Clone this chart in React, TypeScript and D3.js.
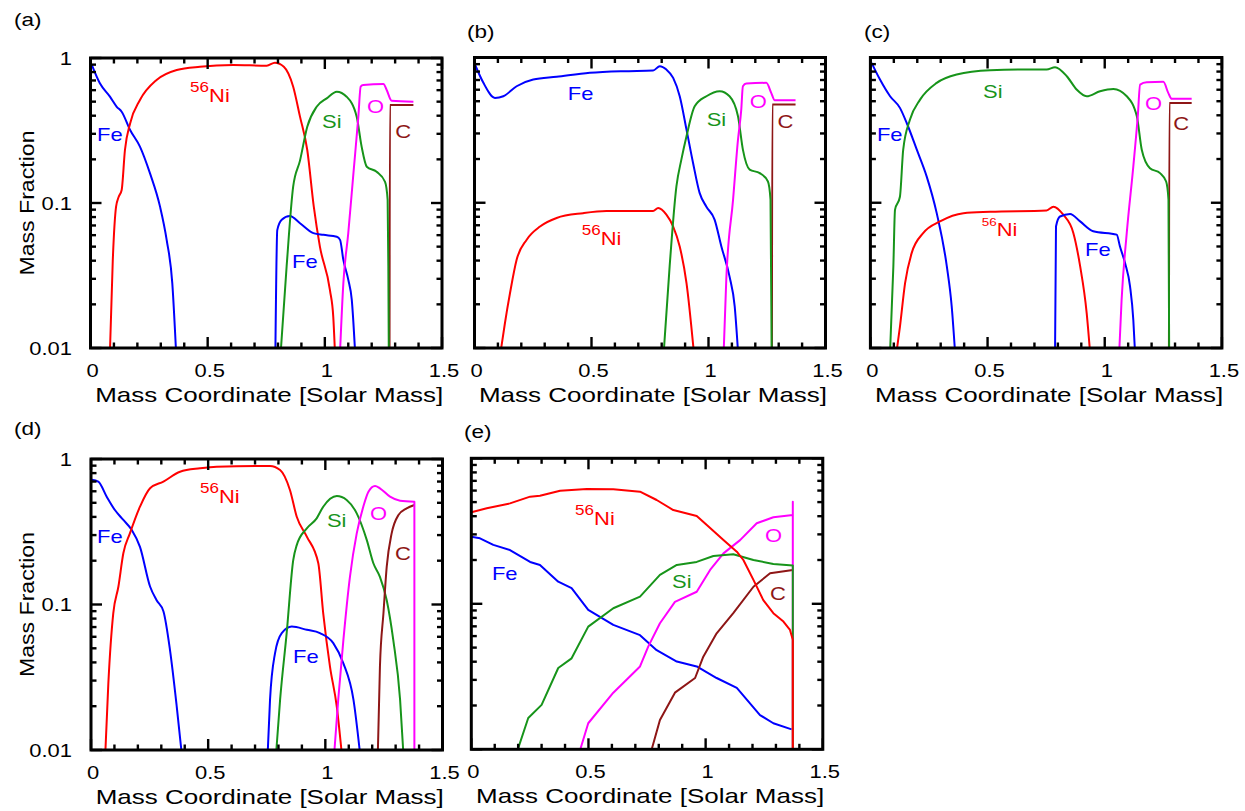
import React from 'react';
import * as d3 from 'd3';

type P = [number, number];

// ---------- tick values / labels ----------
const X_MAJOR = [0, 0.5, 1, 1.5];
const X_TICK_LABELS = ['0', '0.5', '1', '1.5'];
const Y_MAJOR = [0.01, 0.1, 1];
const Y_TICK_LABELS = ['0.01', '0.1', '1'];
const X_TITLE = 'Mass Coordinate [Solar Mass]';
const Y_TITLE = 'Mass Fraction';

// ---------- panel (a) ----------
const A_FE1: P[] = [[0.005,0.9],[0.04,0.669],[0.083,0.541],[0.112,0.461],[0.133,0.426],[0.169,0.319],[0.211,0.245],[0.254,0.16],[0.297,0.094],[0.325,0.0557],[0.349,0.028],[0.365,0.0095]];
const A_NI: P[] = [[0.083,0.0095],[0.095,0.04],[0.109,0.094],[0.12,0.11],[0.133,0.123],[0.147,0.232],[0.169,0.354],[0.211,0.513],[0.282,0.705],[0.368,0.826],[0.467,0.871],[0.609,0.895],[0.752,0.885],[0.787,0.928],[0.825,0.871],[0.865,0.634],[0.894,0.394],[0.925,0.232],[0.953,0.094],[0.979,0.05],[1.022,0.025],[1.036,0.0164],[1.043,0.0095]];
const A_FE2: P[] = [[0.789,0.0095],[0.797,0.065],[0.816,0.0766],[0.851,0.0813],[0.894,0.0725],[0.951,0.062],[0.994,0.0603],[1.051,0.0585],[1.065,0.0557],[1.079,0.0405],[1.1,0.0296],[1.115,0.0215],[1.129,0.0095]];
const A_SI: P[] = [[0.812,0.0095],[0.837,0.0366],[0.865,0.13],[0.894,0.196],[0.925,0.336],[0.965,0.461],[1.008,0.527],[1.051,0.586],[1.093,0.541],[1.136,0.394],[1.157,0.245],[1.179,0.178],[1.221,0.164],[1.257,0.14],[1.268,0.105],[1.271,0.0366],[1.273,0.0095]];
const A_O: P[] = [[1.065,0.0095],[1.079,0.028],[1.1,0.062],[1.122,0.16],[1.143,0.394],[1.153,0.634],[1.164,0.651],[1.25,0.662],[1.264,0.602],[1.285,0.507],[1.378,0.5]];
const A_C: P[] = [[1.276,0.0095],[1.278,0.474],[1.378,0.474]];

// ---------- panel (b) ----------
const B_FE: P[] = [[0.002,0.895],[0.038,0.669],[0.0875,0.527],[0.123,0.541],[0.18,0.634],[0.251,0.705],[0.351,0.736],[0.493,0.784],[0.635,0.805],[0.763,0.813],[0.792,0.871],[0.82,0.826],[0.849,0.724],[0.877,0.541],[0.906,0.319],[0.934,0.188],[0.962,0.117],[0.991,0.094],[1.026,0.0766],[1.055,0.05],[1.09,0.031],[1.112,0.0193],[1.126,0.0095]];
const B_NI: P[] = [[0.112,0.0095],[0.13,0.0148],[0.152,0.024],[0.18,0.0405],[0.223,0.0557],[0.28,0.0686],[0.351,0.0786],[0.464,0.0848],[0.564,0.0877],[0.763,0.0877],[0.785,0.092],[0.82,0.0828],[0.849,0.0686],[0.877,0.05],[0.906,0.028],[0.937,0.0095]];
const B_SI: P[] = [[0.809,0.0095],[0.834,0.0366],[0.863,0.13],[0.884,0.198],[0.906,0.287],[0.941,0.461],[0.991,0.541],[1.048,0.586],[1.09,0.541],[1.126,0.394],[1.147,0.232],[1.176,0.169],[1.219,0.16],[1.254,0.14],[1.265,0.105],[1.27,0.0095]];
const B_O: P[] = [[1.065,0.0095],[1.076,0.0296],[1.105,0.105],[1.126,0.272],[1.14,0.438],[1.147,0.634],[1.162,0.662],[1.247,0.669],[1.268,0.571],[1.283,0.507],[1.372,0.507]];
const B_C: P[] = [[1.271,0.0095],[1.273,0.474],[1.372,0.474]];

// ---------- panel (c) ----------
const C_FE1: P[] = [[0.005,0.919],[0.041,0.705],[0.084,0.541],[0.126,0.45],[0.155,0.354],[0.198,0.232],[0.24,0.152],[0.283,0.0848],[0.326,0.0366],[0.347,0.0193],[0.361,0.0095]];
const C_SI: P[] = [[0.084,0.0095],[0.098,0.0366],[0.105,0.0894],[0.126,0.11],[0.14,0.232],[0.169,0.374],[0.212,0.513],[0.283,0.669],[0.368,0.764],[0.511,0.817],[0.653,0.826],[0.752,0.826],[0.788,0.857],[0.838,0.743],[0.88,0.602],[0.923,0.541],[0.98,0.586],[1.037,0.608],[1.094,0.541],[1.137,0.394],[1.158,0.232],[1.193,0.173],[1.236,0.16],[1.262,0.14],[1.272,0.105],[1.275,0.0095]];
const C_NI: P[] = [[0.112,0.0095],[0.126,0.014],[0.148,0.028],[0.176,0.045],[0.226,0.062],[0.297,0.0744],[0.397,0.0848],[0.511,0.0866],[0.752,0.0884],[0.781,0.094],[0.823,0.0828],[0.866,0.062],[0.895,0.0366],[0.923,0.0174],[0.937,0.0095]];
const C_FE2: P[] = [[0.788,0.0095],[0.792,0.0686],[0.809,0.0804],[0.852,0.0838],[0.895,0.0744],[0.951,0.0636],[1.051,0.0603],[1.065,0.05],[1.087,0.0383],[1.108,0.0266],[1.122,0.0156],[1.129,0.0095]];
const C_O: P[] = [[1.062,0.0095],[1.072,0.0215],[1.094,0.062],[1.122,0.178],[1.141,0.394],[1.151,0.651],[1.179,0.676],[1.25,0.68],[1.271,0.571],[1.286,0.519],[1.371,0.519]];
const C_C: P[] = [[1.274,0.0095],[1.276,0.487],[1.371,0.487]];

// ---------- panel (d) ----------
const D_FE1: P[] = [[0.003,0.72],[0.031,0.699],[0.067,0.551],[0.102,0.446],[0.138,0.381],[0.174,0.325],[0.209,0.249],[0.252,0.133],[0.28,0.107],[0.309,0.0898],[0.337,0.0488],[0.366,0.0198],[0.387,0.0095]];
const D_NI: P[] = [[0.061,0.0095],[0.074,0.0287],[0.095,0.087],[0.117,0.133],[0.138,0.225],[0.166,0.308],[0.209,0.47],[0.252,0.629],[0.309,0.699],[0.38,0.818],[0.465,0.863],[0.536,0.885],[0.764,0.895],[0.807,0.84],[0.849,0.612],[0.878,0.401],[0.921,0.293],[0.97,0.192],[0.991,0.087],[1.02,0.0373],[1.049,0.0198],[1.07,0.0095]];
const D_FE2: P[] = [[0.754,0.0095],[0.764,0.0222],[0.785,0.046],[0.814,0.0636],[0.857,0.0705],[0.921,0.067],[0.977,0.0636],[1.034,0.0543],[1.077,0.0394],[1.12,0.0222],[1.148,0.0095]];
const D_SI: P[] = [[0.79,0.0095],[0.807,0.0222],[0.835,0.0636],[0.863,0.202],[0.878,0.256],[0.921,0.334],[0.963,0.391],[0.991,0.47],[1.049,0.557],[1.091,0.523],[1.134,0.423],[1.177,0.277],[1.205,0.192],[1.233,0.155],[1.262,0.107],[1.29,0.0569],[1.319,0.0222],[1.333,0.0095]];
const D_O: P[] = [[1.038,0.0095],[1.055,0.0222],[1.077,0.0569],[1.105,0.155],[1.134,0.308],[1.162,0.47],[1.184,0.596],[1.212,0.652],[1.233,0.629],[1.276,0.551],[1.319,0.517],[1.38,0.509],[1.38,0.0095]];
const D_C: P[] = [[1.224,0.0095],[1.233,0.0373],[1.248,0.087],[1.262,0.182],[1.283,0.308],[1.312,0.412],[1.347,0.458],[1.38,0.483]];

// ---------- panel (e) ----------
const E_FE: P[] = [[0,0.289],[0.037,0.282],[0.094,0.254],[0.165,0.234],[0.251,0.194],[0.293,0.185],[0.371,0.142],[0.428,0.128],[0.499,0.0907],[0.606,0.0716],[0.72,0.0609],[0.791,0.048],[0.877,0.0401],[0.962,0.0371],[1.047,0.0309],[1.133,0.0264],[1.232,0.0172],[1.289,0.0151],[1.367,0.0137]];
const E_C: P[] = [[0.766,0.0095],[0.805,0.0159],[0.869,0.0245],[0.955,0.0309],[0.99,0.0433],[1.047,0.0627],[1.118,0.0862],[1.204,0.131],[1.275,0.162],[1.372,0.171]];
const E_O: P[] = [[0.461,0.0095],[0.499,0.0151],[0.606,0.0245],[0.72,0.0371],[0.755,0.0508],[0.805,0.0735],[0.869,0.103],[0.962,0.121],[1.019,0.171],[1.076,0.222],[1.147,0.274],[1.218,0.358],[1.289,0.393],[1.372,0.407],[1.372,0.503],[1.372,0.0095]];
const E_SI: P[] = [[0.194,0.0095],[0.243,0.0164],[0.3,0.0202],[0.371,0.0362],[0.428,0.0422],[0.499,0.0697],[0.606,0.0932],[0.72,0.112],[0.805,0.158],[0.877,0.185],[0.962,0.194],[1.033,0.213],[1.118,0.219],[1.204,0.2],[1.289,0.188],[1.372,0.183],[1.372,0.0095]];
const E_NI: P[] = [[0,0.426],[0.066,0.453],[0.165,0.49],[0.251,0.545],[0.293,0.553],[0.379,0.599],[0.493,0.615],[0.606,0.612],[0.72,0.59],[0.791,0.517],[0.862,0.441],[0.962,0.401],[1.005,0.348],[1.076,0.274],[1.133,0.228],[1.161,0.2],[1.204,0.146],[1.246,0.106],[1.289,0.0862],[1.332,0.0755],[1.36,0.0661],[1.372,0.0566],[1.372,0.0095]];

// ---------- styles ----------
const COLOR: Record<string, string> = {
  Fe: '#0000ff',
  Ni: '#ff0000',
  Si: '#17941a',
  O: '#ff00ff',
  C: '#8e1616',
};
const FONT = '"Liberation Sans", Arial, Helvetica, sans-serif';

type Series = { sp: string; data: P[] };
type Label = { sp: string; text: string; x: number; y: number; sup?: number };
type PanelSpec = {
  tag: string;
  left: number; top: number; width: number; height: number;
  yLabels: boolean;
  smooth: boolean;
  tagX: number; tagY: number;
  series: Series[];
  labels: Label[];
};

const PANELS: PanelSpec[] = [
  {
    tag: '(a)', left: 90.5, top: 58, width: 351.5, height: 290, yLabels: true, smooth: true, tagX: 14, tagY: 26,
    series: [
      { sp: 'Fe', data: A_FE1 }, { sp: 'Ni', data: A_NI }, { sp: 'Fe', data: A_FE2 },
      { sp: 'C', data: A_C }, { sp: 'Si', data: A_SI }, { sp: 'O', data: A_O },
    ],
    labels: [
      { sp: 'Ni', text: 'Ni', x: 0.425, y: 0.497, sup: 14 },
      { sp: 'Fe', text: 'Fe', x: 0.028, y: 0.268 },
      { sp: 'Si', text: 'Si', x: 0.988, y: 0.329 },
      { sp: 'O', text: 'O', x: 1.18, y: 0.418 },
      { sp: 'C', text: 'C', x: 1.3, y: 0.281 },
      { sp: 'Fe', text: 'Fe', x: 0.86, y: 0.0357 },
    ],
  },
  {
    tag: '(b)', left: 474.5, top: 57.5, width: 351, height: 290.5, yLabels: false, smooth: true, tagX: 467, tagY: 38,
    series: [
      { sp: 'Ni', data: B_NI }, { sp: 'Fe', data: B_FE },
      { sp: 'C', data: B_C }, { sp: 'Si', data: B_SI }, { sp: 'O', data: B_O },
    ],
    labels: [
      { sp: 'Fe', text: 'Fe', x: 0.399, y: 0.513 },
      { sp: 'Si', text: 'Si', x: 0.992, y: 0.336 },
      { sp: 'O', text: 'O', x: 1.176, y: 0.452 },
      { sp: 'C', text: 'C', x: 1.295, y: 0.329 },
      { sp: 'Ni', text: 'Ni', x: 0.458, y: 0.0514, sup: 14 },
    ],
  },
  {
    tag: '(c)', left: 870.4, top: 57.5, width: 351.5, height: 290.5, yLabels: false, smooth: true, tagX: 864, tagY: 38,
    series: [
      { sp: 'Fe', data: C_FE1 }, { sp: 'Ni', data: C_NI }, { sp: 'Fe', data: C_FE2 },
      { sp: 'C', data: C_C }, { sp: 'Si', data: C_SI }, { sp: 'O', data: C_O },
    ],
    labels: [
      { sp: 'Si', text: 'Si', x: 0.481, y: 0.53 },
      { sp: 'Fe', text: 'Fe', x: 0.028, y: 0.268 },
      { sp: 'Ni', text: 'Ni', x: 0.475, y: 0.0587, sup: 11 },
      { sp: 'Fe', text: 'Fe', x: 0.916, y: 0.0428 },
      { sp: 'O', text: 'O', x: 1.172, y: 0.438 },
      { sp: 'C', text: 'C', x: 1.292, y: 0.318 },
    ],
  },
  {
    tag: '(d)', left: 91, top: 459, width: 351.5, height: 291, yLabels: true, smooth: true, tagX: 14, tagY: 435,
    series: [
      { sp: 'Fe', data: D_FE1 }, { sp: 'Ni', data: D_NI }, { sp: 'Fe', data: D_FE2 },
      { sp: 'Si', data: D_SI }, { sp: 'C', data: D_C }, { sp: 'O', data: D_O },
    ],
    labels: [
      { sp: 'Ni', text: 'Ni', x: 0.465, y: 0.498, sup: 14 },
      { sp: 'Fe', text: 'Fe', x: 0.026, y: 0.265 },
      { sp: 'Si', text: 'Si', x: 1.007, y: 0.343 },
      { sp: 'O', text: 'O', x: 1.191, y: 0.381 },
      { sp: 'C', text: 'C', x: 1.297, y: 0.202 },
      { sp: 'Fe', text: 'Fe', x: 0.862, y: 0.0397 },
    ],
  },
  {
    tag: '(e)', left: 471.3, top: 458.3, width: 351.5, height: 291, yLabels: false, smooth: false, tagX: 464, tagY: 438,
    series: [
      { sp: 'Fe', data: E_FE }, { sp: 'C', data: E_C }, { sp: 'O', data: E_O },
      { sp: 'Si', data: E_SI }, { sp: 'Ni', data: E_NI },
    ],
    labels: [
      { sp: 'Ni', text: 'Ni', x: 0.443, y: 0.348, sup: 14 },
      { sp: 'Fe', text: 'Fe', x: 0.088, y: 0.146 },
      { sp: 'Si', text: 'Si', x: 0.857, y: 0.128 },
      { sp: 'O', text: 'O', x: 1.253, y: 0.267 },
      { sp: 'C', text: 'C', x: 1.275, y: 0.106 },
    ],
  },
];

const SX = 1.22; // horizontal glyph stretch of the reference

function SText(props: {
  x: number; y: number; size: number; anchor?: 'start' | 'middle' | 'end';
  fill?: string; sx?: number; children: React.ReactNode;
}) {
  const { x, y, size, anchor = 'start', fill = '#000', sx = SX, children } = props;
  return (
    <text
      transform={`translate(${x},${y}) scale(${sx},1)`}
      textAnchor={anchor}
      fontSize={size}
      fill={fill}
      fontFamily={FONT}
    >
      {children}
    </text>
  );
}

// smooth (monotone) part while x strictly increases, straight segments for vertical tails
function buildPath(data: P[], px: (v: number) => number, py: (v: number) => number, smoothOn: boolean): string {
  const straight = d3
    .line<P>()
    .x((d) => px(d[0]))
    .y((d) => py(d[1]))
    .curve(d3.curveLinear);
  if (!smoothOn) return straight(data) || '';
  let cut = data.length;
  for (let i = 1; i < data.length; i++) {
    if (data[i][0] <= data[i - 1][0]) { cut = i; break; }
  }
  const smooth = d3
    .line<P>()
    .x((d) => px(d[0]))
    .y((d) => py(d[1]))
    .curve(d3.curveMonotoneX);
  let d = smooth(data.slice(0, cut)) || '';
  if (cut < data.length) {
    const tail = straight(data.slice(cut - 1)) || '';
    d += tail.replace(/^M/, 'L');
  }
  return d;
}

function Panel({ spec, idx }: { spec: PanelSpec; idx: number }) {
  const { left, top, width, height } = spec;
  const x = d3.scaleLinear().domain([0, 1.5]).range([left, left + width]);
  const y = d3.scaleLog().domain([0.01, 1]).range([top + height, top]);
  const yc = (v: number) => y(Math.max(v, 0.005));

  const xMinor = d3.range(0, 16).map((i) => i / 10);
  const yMinor: number[] = [];
  [0.01, 0.1].forEach((dec) => {
    for (let k = 2; k <= 9; k++) yMinor.push(k * dec);
  });
  const isMajorX = (v: number) => Math.abs(v * 2 - Math.round(v * 2)) < 1e-6;
  const MAJ = 11;
  const MIN = 5.5;
  const bottom = top + height;
  const right = left + width;
  const clipId = `clip-${idx}`;
  const tickStroke = 2.4;

  return (
    <g>
      <defs>
        <clipPath id={clipId}>
          <rect x={left} y={top} width={width} height={height} />
        </clipPath>
      </defs>
      {/* curves */}
      <g clipPath={`url(#${clipId})`}>
        {spec.series.map((s, i) => (
          <path
            key={i}
            d={buildPath(s.data, x, yc, spec.smooth)}
            fill="none"
            stroke={COLOR[s.sp]}
            strokeWidth={2}
            strokeLinejoin="round"
          />
        ))}
      </g>
      {/* ticks */}
      <g stroke="#000" strokeWidth={tickStroke}>
        {xMinor.map((v, i) => {
          const len = isMajorX(v) ? MAJ : MIN;
          const px = x(v);
          return (
            <g key={'x' + i}>
              <line x1={px} x2={px} y1={bottom} y2={bottom - len} />
              <line x1={px} x2={px} y1={top} y2={top + len} />
            </g>
          );
        })}
        {Y_MAJOR.concat(yMinor).map((v, i) => {
          const len = Y_MAJOR.includes(v) ? MAJ : MIN;
          const py = y(v);
          return (
            <g key={'y' + i}>
              <line x1={left} x2={left + len} y1={py} y2={py} />
              <line x1={right} x2={right - len} y1={py} y2={py} />
            </g>
          );
        })}
      </g>
      {/* frame */}
      <rect x={left} y={top} width={width} height={height} fill="none" stroke="#000" strokeWidth={3} />
      {/* x tick labels */}
      {X_MAJOR.map((v, i) => (
        <SText key={'xl' + i} x={x(v) + 2} y={bottom + 29} size={18} anchor="middle">
          {X_TICK_LABELS[i]}
        </SText>
      ))}
      {/* y tick labels */}
      {spec.yLabels &&
        Y_MAJOR.map((v, i) => (
          <SText key={'yl' + i} x={72} y={y(v) + 6.5} size={18} anchor="end">
            {Y_TICK_LABELS[i]}
          </SText>
        ))}
      {/* x title */}
      <SText x={(left + right) / 2 + 3} y={bottom + 54} size={20} anchor="middle" sx={1.3}>
        {X_TITLE}
      </SText>
      {/* y title */}
      {spec.yLabels && (
        <text
          transform={`translate(34,${(top + bottom) / 2}) rotate(-90)`}
          textAnchor="middle"
          fontSize={21}
          fontFamily={FONT}
          fill="#000"
          textLength={145}
          lengthAdjust="spacingAndGlyphs"
        >
          {Y_TITLE}
        </text>
      )}
      {/* panel tag */}
      <SText x={spec.tagX} y={spec.tagY} size={18} sx={1.25}>
        {spec.tag}
      </SText>
      {/* species labels */}
      {spec.labels.map((l, i) => (
        <SText key={'lb' + i} x={x(l.x)} y={y(l.y)} size={18} fill={COLOR[l.sp]}>
          {l.sup ? (
            <>
              <tspan fontSize={l.sup} dy={-10}>56</tspan>
              <tspan dy={10}>{l.text}</tspan>
            </>
          ) : (
            l.text
          )}
        </SText>
      ))}
    </g>
  );
}

export default function App() {
  return (
    <svg
      width={1245}
      height={811}
      viewBox="0 0 1245 811"
      style={{ position: 'absolute', left: 0, top: 0, background: '#fff' }}
    >
      <rect x={0} y={0} width={1245} height={811} fill="#fff" />
      {PANELS.map((p, i) => (
        <Panel key={p.tag} spec={p} idx={i} />
      ))}
    </svg>
  );
}
